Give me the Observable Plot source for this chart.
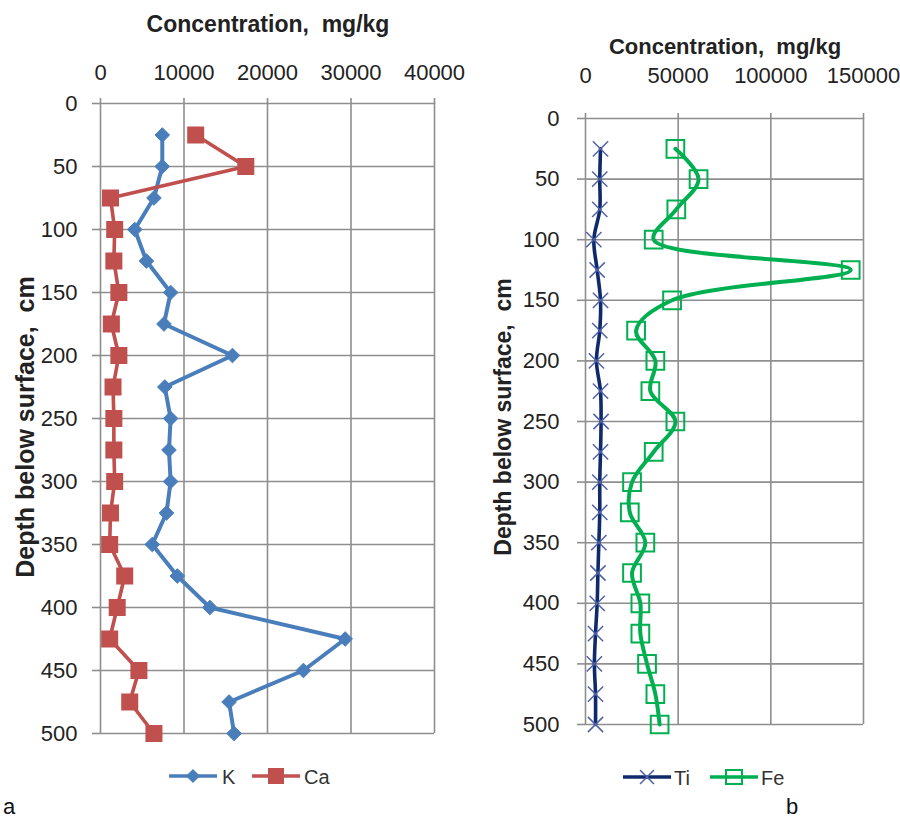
<!DOCTYPE html>
<html>
<head>
<meta charset="utf-8">
<script src="https://cdn.jsdelivr.net/npm/d3@7"></script>
<script src="https://cdn.jsdelivr.net/npm/@observablehq/plot@0.6"></script>
<style>
  html, body { margin: 0; padding: 0; background: #fff; }
  #wrap { position: relative; width: 900px; height: 819px; overflow: hidden; font-family: "Liberation Sans", Arial, sans-serif; color: #222; }
  .abs { position: absolute; white-space: pre; line-height: 1; }
  .title { font-weight: bold; font-size: 23px; transform: translate(-50%, -50%); }
  .ytitle { font-weight: bold; transform: translate(-50%, -50%) rotate(-90deg); }
  .leg { font-size: 20px; color: #333; }
  .letter { font-size: 22px; color: #111; }
</style>
</head>
<body>
<div id="wrap"></div>
<script>
// ---- data ----
const depth = [25, 50, 75, 100, 125, 150, 175, 200, 225, 250, 275, 300, 325, 350, 375, 400, 425, 450, 475, 500];
const K  = [7400, 7400, 6400, 4100, 5500, 8400, 7600, 15800, 7700, 8400, 8200, 8400, 7900, 6200, 9200, 13100, 29300, 24300, 15400, 16000];
const Ca = [11400, 17400, 1200, 1700, 1600, 2200, 1300, 2200, 1500, 1600, 1600, 1700, 1200, 1100, 2900, 2000, 1100, 4600, 3500, 6400];
const Ti = [8100, 7700, 7700, 4500, 6300, 8100, 7700, 5900, 8100, 8400, 8100, 7700, 7700, 7200, 6700, 6300, 5400, 4800, 5400, 5400];
const Fe = [48500, 61000, 49000, 36800, 143100, 46700, 27300, 37700, 35000, 48500, 36800, 25100, 23900, 32300, 25100, 29600, 29600, 33200, 37700, 40000];

const xTicksA = [0, 10000, 20000, 30000, 40000];
const xTicksB = [0, 50000, 100000, 150000];
const yTicks  = [0, 50, 100, 150, 200, 250, 300, 350, 400, 450, 500];

const colors = { K: "#4a7ebb", Ca: "#c0504d", Ti: "#0f2a6b", TiMarker: "#4f62a8", Fe: "#00b050" };
const axisTitle = "Concentration,  mg/kg";
const yTitle = "Depth below surface,  cm";

// ---- build rows ----
const rows = depth.map((d, i) => ({ depth: d, K: K[i], Ca: Ca[i], Ti: Ti[i], Fe: Fe[i] }));

const gridStyle = { stroke: "#8e8e8e", strokeOpacity: 1, strokeWidth: 1.6 };
const fmt = d => String(d);
const baseStyle = { fontFamily: "'Liberation Sans', Arial, sans-serif", fontSize: "22px", color: "#222", background: "transparent", overflow: "visible" };

const wrap = document.getElementById("wrap");

// ---- panel a ----
const plotA = Plot.plot({
  width: 475, height: 760,
  marginTop: 103, marginLeft: 100, marginRight: 41, marginBottom: 27,
  style: baseStyle,
  x: { domain: [0, 40000] },
  y: { domain: [0, 500], reverse: true },
  marks: [
    Plot.gridX(xTicksA, gridStyle),
    Plot.gridY(yTicks, gridStyle),
    Plot.axisX(xTicksA, { anchor: "top", tickSize: 6, tickPadding: 18, tickFormat: fmt, label: null, stroke: "#8e8e8e", strokeWidth: 1.6 }),
    Plot.axisY(yTicks, { anchor: "left", tickSize: 8, tickPadding: 15, tickFormat: fmt, label: null, stroke: "#8e8e8e", strokeWidth: 1.6 }),
    Plot.line(rows, { x: "K", y: "depth", stroke: colors.K, strokeWidth: 4, strokeLinejoin: "round" }),
    Plot.dot(rows, { x: "K", y: "depth", symbol: "diamond2", r: 6.6, fill: colors.K, stroke: colors.K, strokeWidth: 1 }),
    Plot.line(rows, { x: "Ca", y: "depth", stroke: colors.Ca, strokeWidth: 3.6, strokeLinejoin: "round" }),
    Plot.dot(rows, { x: "Ca", y: "depth", symbol: "square", r: 9.6, fill: colors.Ca, stroke: "none" })
  ]
});
plotA.style.position = "absolute";
plotA.style.left = "0px";
plotA.style.top = "0px";
wrap.appendChild(plotA);

// ---- panel b ----
const plotB = Plot.plot({
  width: 425, height: 760,
  marginTop: 118, marginLeft: 110, marginRight: 37, marginBottom: 36,
  style: baseStyle,
  x: { domain: [0, 150000] },
  y: { domain: [0, 500], reverse: true },
  marks: [
    Plot.gridX(xTicksB, gridStyle),
    Plot.gridY(yTicks, gridStyle),
    Plot.axisX(xTicksB, { anchor: "top", tickSize: 6, tickPadding: 30, tickFormat: fmt, label: null, stroke: "#8e8e8e", strokeWidth: 1.6 }),
    Plot.axisY(yTicks, { anchor: "left", tickSize: 8, tickPadding: 18, tickFormat: fmt, label: null, stroke: "#8e8e8e", strokeWidth: 1.6 }),
    Plot.line(rows, { x: "Ti", y: "depth", stroke: colors.Ti, strokeWidth: 3.6, curve: "catmull-rom" }),
    Plot.dot(rows, { x: "Ti", y: "depth", symbol: "times", r: 7, stroke: colors.TiMarker, strokeWidth: 1.5, fill: "none" }),
    Plot.line(rows, { x: "Fe", y: "depth", stroke: colors.Fe, strokeWidth: 4, curve: "catmull-rom" }),
    Plot.dot(rows, { x: "Fe", y: "depth", symbol: "square", r: 10, stroke: colors.Fe, strokeWidth: 2, fill: "none" })
  ]
});
plotB.style.position = "absolute";
plotB.style.left = "475px";
plotB.style.top = "0px";
wrap.appendChild(plotB);

// ---- text elements ----
function addText(txt, cls, x, y, extra) {
  const el = document.createElement("div");
  el.className = "abs " + cls;
  el.textContent = txt;
  el.style.left = x + "px";
  el.style.top = y + "px";
  if (extra) Object.assign(el.style, extra);
  wrap.appendChild(el);
  return el;
}
addText(axisTitle, "title", 268, 24);
addText(axisTitle, "title", 725, 47, { fontSize: "22px" });
addText(yTitle, "ytitle", 25, 427, { fontSize: "25px" });
addText(yTitle, "ytitle", 503, 417, { fontSize: "23px" });
addText("a", "letter", 3, 796);
addText("b", "letter", 786, 796);

// ---- legends (line + marker swatches) ----
function swatch(x, y, color, marker, mcolor) {
  const w = 48, h = 22;
  const ns = "http://www.w3.org/2000/svg";
  const svg = document.createElementNS(ns, "svg");
  svg.setAttribute("width", w); svg.setAttribute("height", h);
  svg.style.position = "absolute";
  svg.style.left = x + "px"; svg.style.top = (y - h / 2) + "px";
  const cx = w / 2, cy = h / 2;
  let html = `<line x1="0" y1="${cy}" x2="${w}" y2="${cy}" stroke="${color}" stroke-width="3.5"/>`;
  if (marker === "diamond") html += `<path d="M${cx},${cy - 7}L${cx + 7},${cy}L${cx},${cy + 7}L${cx - 7},${cy}Z" fill="${color}"/>`;
  if (marker === "square") html += `<rect x="${cx - 8}" y="${cy - 8}" width="16" height="16" fill="${color}"/>`;
  if (marker === "hsquare") html += `<rect x="${cx - 8}" y="${cy - 7}" width="16" height="14" fill="none" stroke="${color}" stroke-width="2"/>`;
  if (marker === "times") html += `<path d="M${cx - 7},${cy - 7}L${cx + 7},${cy + 7}M${cx - 7},${cy + 7}L${cx + 7},${cy - 7}" stroke="${mcolor}" stroke-width="1.5"/>`;
  svg.innerHTML = html;
  wrap.appendChild(svg);
}
swatch(169, 776, colors.K, "diamond");
addText("K", "leg", 222, 767);
swatch(252, 776, colors.Ca, "square");
addText("Ca", "leg", 304, 767);
swatch(623, 777, colors.Ti, "times", colors.TiMarker);
addText("Ti", "leg", 674, 768);
swatch(710, 777, colors.Fe, "hsquare");
addText("Fe", "leg", 761, 768);
</script>
</body>
</html>
